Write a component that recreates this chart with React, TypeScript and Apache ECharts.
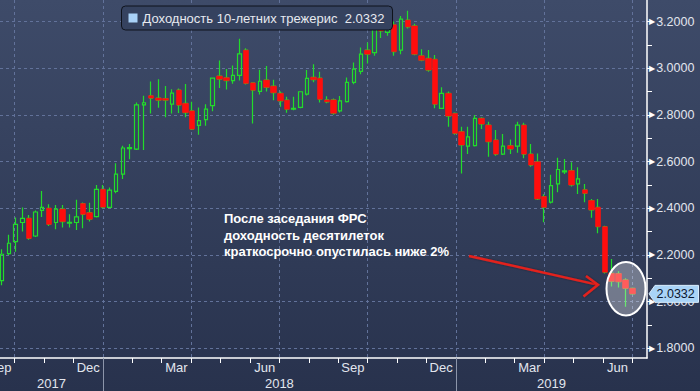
import React, { useEffect, useRef } from 'react';
import * as echarts from 'echarts';

// Weekly candles, first week position
const firstWeek = '2017-09-18';
const opens = [2.09,2.206,2.257,2.339,2.357,2.281,2.391,2.40,2.339,2.396,
  2.336,2.339,2.42,2.381,2.364,2.481,2.404,2.472,2.546,2.655,
  2.653,2.843,2.882,2.872,2.87,2.846,2.906,2.849,2.817,2.755,
  2.78,2.84,2.966,2.959,2.947,2.969,3.077,2.937,2.901,2.949,
  2.923,2.892,2.863,2.824,2.832,2.889,2.961,2.957,2.864,2.864,
  2.817,2.857,2.939,2.986,3.077,3.067,3.231,3.153,3.186,3.077,
  3.206,3.181,3.053,3.042,3.038,2.828,2.892,2.806,2.728,2.666,
  2.668,2.785,2.756,2.692,2.632,2.668,2.666,2.756,2.632,2.599,
  2.45,2.426,2.504,2.556,2.561,2.504,2.479,2.433,2.404,2.321,
  2.121,2.12,2.093,2.057];
const closes = [2.203,2.25,2.331,2.357,2.271,2.384,2.404,2.331,2.396,2.343,
  2.34,2.363,2.374,2.353,2.481,2.405,2.478,2.546,2.658,2.66,
  2.843,2.852,2.872,2.863,2.863,2.893,2.842,2.81,2.739,2.775,
  2.825,2.957,2.953,2.947,2.969,3.061,2.935,2.906,2.944,2.918,
  2.895,2.86,2.824,2.828,2.899,2.956,2.951,2.867,2.856,2.807,
  2.86,2.939,2.996,3.06,3.06,3.231,3.16,3.189,3.071,3.21,
  3.177,3.06,3.034,2.992,2.846,2.892,2.795,2.721,2.671,2.706,
  2.785,2.761,2.685,2.632,2.666,2.654,2.756,2.632,2.585,2.44,
  2.404,2.497,2.566,2.56,2.50,2.526,2.464,2.393,2.321,2.126,
  2.087,2.085,2.057,2.0332];
const lows = [2.07,2.20,2.214,2.30,2.265,2.277,2.363,2.324,2.31,2.317,
  2.317,2.307,2.314,2.343,2.36,2.40,2.40,2.464,2.525,2.61,
  2.65,2.649,2.806,2.83,2.79,2.806,2.808,2.79,2.735,2.715,
  2.753,2.815,2.915,2.909,2.933,2.947,2.93,2.763,2.887,2.90,
  2.863,2.835,2.809,2.82,2.828,2.883,2.94,2.853,2.85,2.80,
  2.81,2.853,2.931,2.974,3.02,3.053,3.129,3.139,3.053,3.06,
  3.17,3.055,3.03,2.985,2.828,2.825,2.749,2.715,2.549,2.632,
  2.665,2.74,2.621,2.625,2.628,2.632,2.638,2.614,2.578,2.435,
  2.34,2.42,2.469,2.547,2.493,2.461,2.426,2.359,2.293,2.12,
  2.065,2.06,1.978,2.03];
const highs = [2.224,2.286,2.36,2.403,2.371,2.39,2.474,2.417,2.414,2.414,
  2.374,2.436,2.425,2.424,2.50,2.50,2.489,2.593,2.668,2.675,
  2.853,2.882,2.943,2.953,2.924,2.91,2.913,2.932,2.856,2.832,
  2.846,2.96,3.033,2.997,3.011,3.126,3.085,2.94,2.993,3.009,
  2.95,2.90,2.878,2.878,2.90,2.992,3.017,2.985,2.88,2.87,
  2.881,2.96,3.024,3.089,3.11,3.246,3.26,3.217,3.2,3.224,
  3.246,3.19,3.081,3.078,3.056,2.918,2.90,2.81,2.749,2.749,
  2.799,2.79,2.77,2.735,2.718,2.695,2.77,2.766,2.675,2.635,
  2.46,2.544,2.616,2.611,2.597,2.576,2.504,2.44,2.44,2.325,
  2.183,2.13,2.10,2.06];

const monthLabels = ['Sep', 'Dec', 'Mar', 'Jun', 'Sep', 'Dec', 'Mar', 'Jun'];
const yearLabels = ['2017', '2018', '2019'];
const yearStarts = ['2018-01-01', '2019-01-01'];
const seriesName = 'Доходность 10-летних трежерис';
const noteLines = ['После заседания ФРС', 'доходность десятилеток', 'краткосрочно опустилась ниже 2%'];

const GREEN = '#22dc2a';
const RED = '#ff0d0d';
const GRIDC = '#62729a';
const LABEL = '#e2e6ee';
const FONT = '"Liberation Sans", Arial, sans-serif';

// x coordinate in months, 0 = middle of Sep 2017
function monthCoord(s: string): number {
  const [y, m, d] = s.split('-').map(Number);
  const dim = new Date(Date.UTC(y, m, 0)).getUTCDate();
  return (y - 2017) * 12 + (m - 1) + (d - 1) / dim - 8.5;
}
function weekDate(i: number): string {
  const [y, m, d] = firstWeek.split('-').map(Number);
  const t = new Date(Date.UTC(y, m - 1, d) + i * 7 * 86400000);
  return t.toISOString().slice(0, 10);
}
const weekDates = opens.map((_, i) => weekDate(i));

export default function App() {
  const ref = useRef<HTMLDivElement>(null);
  useEffect(() => {
    if (!ref.current) return;
    const chart = echarts.init(ref.current, undefined, { renderer: 'svg' });
    const plotW = 647, plotH = 358, W = 700, H = 391;
    const monthPx = plotW / 22;
    const y32 = 21.5, y18 = 348.3;
    const last = closes[closes.length - 1];

    const allData = weekDates.map((d, i) => [monthCoord(d), opens[i], closes[i], lows[i], highs[i]]);
    const downData = weekDates
      .map((d, i) => ({ d, i }))
      .filter(({ i }) => closes[i] < opens[i])
      .map(({ d, i }) => [monthCoord(d), opens[i], closes[i], closes[i], opens[i]]);

    const dashed = { color: GRIDC, type: [3, 3] as any, width: 1 };
    const clearLine = { show: true, onZero: false, lineStyle: { color: 'rgba(0,0,0,0)', width: 1 } };
    const noBounds = { outerBoundsMode: 'none', containLabel: false };

    chart.setOption({
      animation: false,
      backgroundColor: 'transparent',
      legend: {
        show: true,
        left: 121.5,
        top: 6,
        padding: [5.5, 8, 5.5, 7],
        itemWidth: 9,
        itemHeight: 9,
        backgroundColor: '#35425f',
        borderColor: '#0f131c',
        borderWidth: 1,
        borderRadius: 4,
        selectedMode: false,
        textStyle: { color: '#e6e9ef', fontSize: 13, fontFamily: FONT },
        data: [{ name: seriesName, icon: 'rect', itemStyle: { color: '#a9d2f8', borderWidth: 0 } }],
        formatter: (n: string) => n + '  ' + last.toFixed(4),
      },
      grid: [
        { ...noBounds, left: 0, right: W - plotW, top: 0, bottom: H - plotH },
        { ...noBounds, left: monthPx * 0.5, right: W - plotW + monthPx * 0.5, top: 0, bottom: H - plotH },
        { ...noBounds, left: 0, right: W - plotW, top: y32, bottom: H - y18 },
        { ...noBounds, left: 0, right: W - plotW, top: y32, bottom: H - y18 },
      ],
      xAxis: [
        {
          gridIndex: 0, type: 'value', min: 0, max: 22, interval: 3,
          axisLine: { show: true, onZero: false, lineStyle: { color: '#ffffff', width: 1.5 } },
          axisTick: { show: false }, splitLine: { show: false },
          axisLabel: {
            show: true, showMinLabel: true, showMaxLabel: false, margin: 3,
            align: 'center', alignMinLabel: 'center', alignMaxLabel: 'center',
            color: LABEL, fontSize: 13, fontFamily: FONT,
            formatter: (v: number) => (Math.abs(v % 3) < 1e-6 ? monthLabels[Math.round(v / 3)] ?? '' : ''),
          },
        },
        {
          gridIndex: 1, type: 'value', min: 0, max: 21, interval: 3,
          axisLine: { show: false, onZero: false },
          axisTick: { show: true, length: 5, lineStyle: { color: '#ffffff', width: 1 } },
          minorTick: { show: true, splitNumber: 3, length: 5, lineStyle: { color: '#ffffff', width: 1 } },
          splitLine: { show: true, lineStyle: dashed },
          axisLabel: { show: false },
        },
        { gridIndex: 2, type: 'value', min: 0, max: 22, show: false, axisLine: { onZero: false } },
        { gridIndex: 3, type: 'value', min: 0, max: 22, show: false, axisLine: { onZero: false } },
      ],
      yAxis: [
        {
          gridIndex: 0, type: 'value', position: 'right', min: 0, max: 1,
          axisLine: { show: true, onZero: false, lineStyle: { color: '#ffffff', width: 1.5 } },
          axisTick: { show: false }, axisLabel: { show: false }, splitLine: { show: false },
        },
        { gridIndex: 1, type: 'value', min: 0, max: 1, show: false, axisLine: { onZero: false } },
        {
          gridIndex: 2, type: 'value', position: 'right', min: 1.8, max: 3.2, interval: 0.2,
          axisLine: clearLine,
          axisTick: { show: true, length: 3, lineStyle: { color: '#ffffff', width: 1 } },
          splitLine: { show: true, lineStyle: dashed },
          axisLabel: {
            show: true, showMinLabel: true, showMaxLabel: true, margin: 2,
            color: LABEL, fontSize: 12.5, fontFamily: FONT,
            formatter: (v: number) => '{a|▶}' + v.toFixed(4),
            rich: { a: { fontSize: 8, color: '#ffffff', fontFamily: '"DejaVu Sans"', padding: [0, 1, 0, 0] } },
          },
        },
        {
          gridIndex: 3, type: 'value', position: 'right', min: 1.8, max: 3.2, interval: 0.1,
          axisLine: clearLine,
          axisTick: { show: true, length: 5, lineStyle: { color: '#ffffff', width: 1 } },
          splitLine: { show: false },
          axisLabel: { show: false },
        },
      ],
      series: [
        {
          name: seriesName,
          type: 'candlestick',
          xAxisIndex: 2, yAxisIndex: 2,
          clip: false,
          barWidth: 4,
          encode: { x: 0, y: [1, 2, 3, 4] },
          itemStyle: {
            color: 'rgba(0,0,0,0)', color0: 'rgba(0,0,0,0)',
            borderColor: GREEN, borderColor0: GREEN, borderWidth: 1.2,
          },
          data: allData,
        },
        {
          name: 'down',
          type: 'candlestick',
          xAxisIndex: 2, yAxisIndex: 2,
          clip: false,
          barWidth: 6,
          encode: { x: 0, y: [1, 2, 3, 4] },
          itemStyle: {
            color: RED, color0: RED, borderColor: RED, borderColor0: RED, borderWidth: 0.6,
          },
          data: downData,
        },
      ],
    });

    const px = (u: number) => chart.convertToPixel({ xAxisIndex: 2 }, u) as number;
    const py = (v: number) => chart.convertToPixel({ yAxisIndex: 2 }, v) as number;
    const bounds = [px(0), ...yearStarts.map((s) => px(monthCoord(s))), px(22)];
    const yLast = py(last);

    const graphic: any[] = [];
    yearStarts.forEach((s) => {
      const x = Math.round(px(monthCoord(s))) + 0.5;
      graphic.push({ type: 'line', z: 50, shape: { x1: x, y1: plotH, x2: x, y2: H }, style: { stroke: '#8c95aa', lineWidth: 1 } });
    });
    yearLabels.forEach((t, i) => {
      graphic.push({
        type: 'text', z: 50, x: (bounds[i] + bounds[i + 1]) / 2, y: 383,
        style: { text: t, fill: LABEL, font: `13px ${FONT}`, align: 'center', verticalAlign: 'middle' },
      });
    });
    graphic.push({
      type: 'text', z: 50, x: 224, y: 210,
      style: { text: noteLines.join('\n'), fill: '#ffffff', font: `bold 13px ${FONT}`, lineHeight: 16.7, align: 'left', verticalAlign: 'top' },
    });
    graphic.push({
      type: 'polyline', z: 60, shape: { points: [[469, 256], [597, 284.6]] },
      style: { stroke: '#e3211f', lineWidth: 2.5, fill: null, shadowBlur: 2, shadowColor: 'rgba(0,0,0,0.4)' },
    });
    graphic.push({
      type: 'polyline', z: 60, shape: { points: [[586, 276], [598, 284.8], [583.5, 296.5]] },
      style: { stroke: '#e3211f', lineWidth: 2.5, fill: null, shadowBlur: 2, shadowColor: 'rgba(0,0,0,0.4)' },
    });
    graphic.push({
      type: 'ellipse', z: 70, shape: { cx: 626, cy: 288.7, rx: 19.5, ry: 26.7 },
      style: { fill: 'rgba(255,255,255,0.33)', stroke: '#ffffff', lineWidth: 2 },
    });
    graphic.push({
      type: 'polygon', z: 80,
      shape: { points: [[649, yLast], [655, yLast - 8.5], [698.5, yLast - 8.5], [698.5, yLast + 8.5], [655, yLast + 8.5]] },
      style: { fill: '#a9d3f6', stroke: '#d8ecfc', lineWidth: 1 },
    });
    graphic.push({
      type: 'text', z: 81, x: 656.5, y: yLast + 0.5,
      style: { text: last.toFixed(4), fill: '#0b1730', font: `12.5px ${FONT}`, align: 'left', verticalAlign: 'middle' },
    });
    chart.setOption({ graphic });

    return () => chart.dispose();
  }, []);

  return (
    <div
      ref={ref}
      style={{
        position: 'fixed', left: 0, top: 0, width: 700, height: 391,
        background: 'linear-gradient(#3e4b69, #28324d)',
      }}
    />
  );
}
